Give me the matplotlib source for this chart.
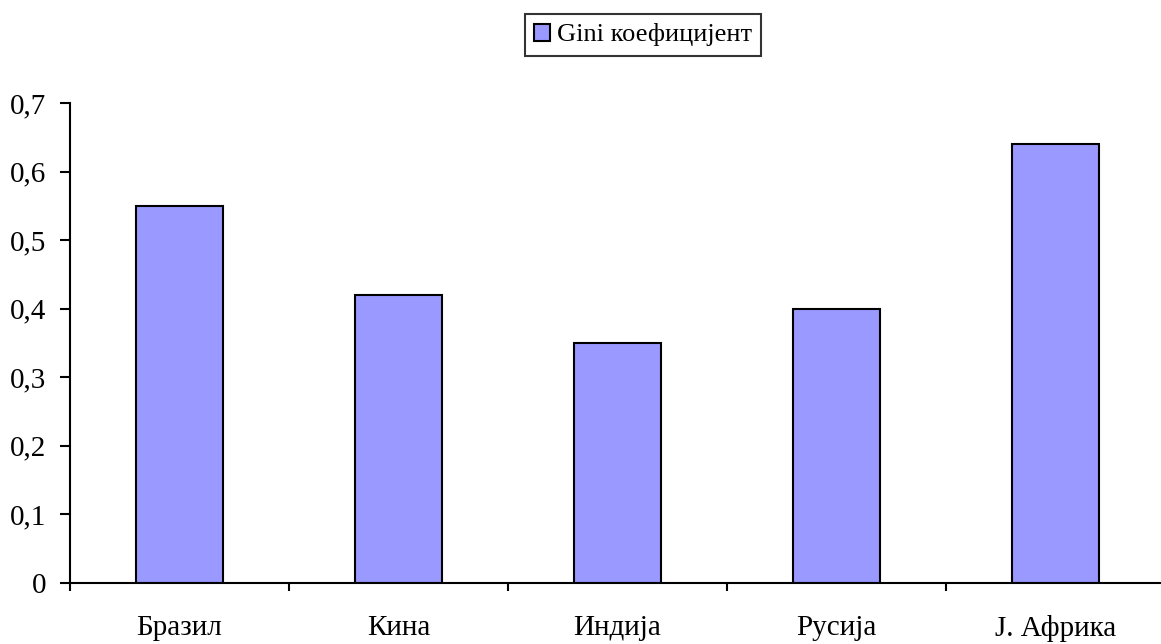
import numpy as np
from matplotlib import pyplot as plt
from matplotlib.ticker import FuncFormatter, FixedLocator

countries = ['Бразил', 'Кина', 'Индија', 'Русија', 'Ј. Африка']
gini = [0.55, 0.42, 0.35, 0.40, 0.64]
series_name = 'Gini коефицијент'

plt.rcParams['font.family'] = ['Liberation Serif', 'DejaVu Serif']

fig = plt.figure(figsize=(11.61, 6.44), dpi=100)
ax = fig.add_axes([70 / 1161, 61 / 644, 1095 / 1161, 480 / 644])

x = np.arange(len(countries))
ax.bar(x, gini, width=0.4, color='#9999FF', edgecolor='black', linewidth=1.5,
       label=series_name)

ax.set_xlim(-0.5, len(countries) - 0.5)
ax.set_ylim(0, 0.7)
ax.set_yticks(np.arange(0, 0.71, 0.1))
ax.yaxis.set_major_formatter(FuncFormatter(
    lambda v, _: '0' if abs(v) < 1e-9 else f'{v:.1f}'.replace('.', ',')))

ax.set_xticks(x)
ax.set_xticklabels(countries)
ax.xaxis.set_minor_locator(FixedLocator(np.arange(-0.5, len(countries), 1.0)))
ax.tick_params(axis='x', which='major', length=0, pad=23, labelsize=21)
ax.tick_params(axis='x', which='minor', length=6, width=1.5, direction='out')
ax.tick_params(axis='y', length=7, width=1.5, direction='out', pad=10, labelsize=21)

for side in ('top', 'right'):
    ax.spines[side].set_visible(False)
for side in ('left', 'bottom'):
    ax.spines[side].set_linewidth(1.5)

leg = fig.legend(loc='center', bbox_to_anchor=(643 / 1161, 1 - 35 / 644),
                 fontsize=19, frameon=True, fancybox=False, edgecolor='black',
                 handlelength=0.6, handleheight=0.6, handletextpad=0.25,
                 borderpad=0.35, borderaxespad=0)
leg.get_frame().set_linewidth(1.5)

fig.savefig('out.png', dpi=100)
